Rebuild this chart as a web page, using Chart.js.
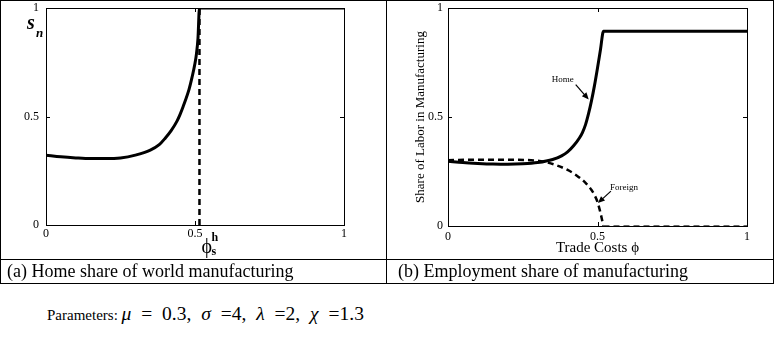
<!DOCTYPE html>
<html>
<head>
<meta charset="utf-8">
<script src="https://cdn.jsdelivr.net/npm/chart.js@4.4.0/dist/chart.umd.min.js"></script>
<style>
  body { margin: 0; background: #fff; }
  #page { position: relative; width: 774px; height: 337px; background: #fff; font-family: 'Liberation Serif', 'Times New Roman', serif; color: #000; }
  #page canvas { position: absolute; top: 0; }
  .frame { position: absolute; left: 0; top: 0; width: 774px; height: 284px; border: 1px solid #000; box-sizing: border-box; }
  .hline { position: absolute; left: 0; top: 259px; width: 774px; height: 1px; background: #000; }
  .vline { position: absolute; left: 386px; top: 0; width: 1px; height: 284px; background: #000; }
  .caption { position: absolute; top: 260px; height: 23px; line-height: 23px; font-size: 18px; white-space: nowrap; }
  .params { position: absolute; left: 47px; top: 302px; height: 24px; line-height: 24px; white-space: nowrap; font-size: 15px; }
  .params .math { font-size: 19.5px; word-spacing: 5px; }
  .params i { font-style: italic; }
</style>
</head>
<body>
<div id="page">
  <canvas id="share" width="386" height="258" style="left:0"></canvas>
  <canvas id="labor" width="386" height="258" style="left:387px"></canvas>
  <div class="frame"></div>
  <div class="hline"></div>
  <div class="vline"></div>
  <div class="caption" style="left:7px">(a) Home share of world manufacturing</div>
  <div class="caption" style="left:398px">(b) Employment share of manufacturing</div>
  <div class="params">Parameters: <span class="math"><i>μ</i> = 0.3, <i>σ</i> =4, <i>λ</i> =2, <i>χ</i> =1.3</span></div>
</div>
<script>
// tick positions shared by both panels
const tickValues = [0, 0.5, 1];

// (a) home share of world manufacturing
const phiA = [0, 0.05, 0.1, 0.15, 0.2, 0.25, 0.3, 0.35, 0.38, 0.4, 0.42, 0.44, 0.45, 0.46, 0.48, 0.49, 0.5, 0.505, 0.51, 0.515, 1];
const shareA = [0.322, 0.314, 0.309, 0.306, 0.306, 0.309, 0.322, 0.345, 0.37, 0.40, 0.435, 0.48, 0.51, 0.545, 0.625, 0.68, 0.745, 0.79, 0.86, 1.0, 1.0];
const phiSustain = 0.515;

// (b) share of labor in manufacturing
const phiB = [0, 0.05, 0.1, 0.15, 0.2, 0.25, 0.3, 0.35, 0.38, 0.4, 0.42, 0.44, 0.45, 0.46, 0.47, 0.48, 0.49, 0.5, 0.51, 0.52, 1];
const homeB = [0.297, 0.291, 0.287, 0.284, 0.283, 0.285, 0.291, 0.305, 0.322, 0.34, 0.368, 0.405, 0.43, 0.465, 0.515, 0.575, 0.645, 0.725, 0.81, 0.893, 0.893];
const phiForeign = [0, 0.1, 0.2, 0.3, 0.33, 0.36, 0.4, 0.43, 0.46, 0.48, 0.49, 0.5, 0.51, 0.515, 0.52, 1];
const foreignB = [0.302, 0.304, 0.304, 0.299, 0.292, 0.28, 0.257, 0.232, 0.198, 0.165, 0.142, 0.11, 0.06, 0.03, 0, 0];

const serif = "'Liberation Serif', 'Times New Roman', serif";
Chart.defaults.font.family = serif;
Chart.defaults.color = '#000';

const toPoints = (xs, ys) => xs.map((x, i) => ({ x: x, y: ys[i] }));

// box round the plot area with small inward ticks on every side
const boxFrame = {
  id: 'boxFrame',
  beforeDatasetsDraw(chart) {
    const { ctx, chartArea: a, scales: { x, y } } = chart;
    ctx.save();
    ctx.strokeStyle = '#000';
    ctx.lineWidth = 1;
    ctx.strokeRect(a.left + 0.5, a.top + 0.5, a.right - a.left, a.bottom - a.top);
    ctx.beginPath();
    tickValues.forEach(v => {
      const px = Math.round(x.getPixelForValue(v)) + 0.5;
      const py = Math.round(y.getPixelForValue(v)) + 0.5;
      ctx.moveTo(px, a.bottom); ctx.lineTo(px, a.bottom - 4);
      ctx.moveTo(px, a.top); ctx.lineTo(px, a.top + 4);
      ctx.moveTo(a.left, py); ctx.lineTo(a.left + 4, py);
      ctx.moveTo(a.right, py); ctx.lineTo(a.right - 4, py);
    });
    ctx.stroke();
    ctx.restore();
  }
};

// gap between axis and labels goes through tickLength so it doesn't pad the chart area
function axis(gap, fit) {
  return {
    type: 'linear',
    min: 0,
    max: 1,
    afterBuildTicks: s => { s.ticks = tickValues.map(v => ({ value: v })); },
    afterFit: fit,
    grid: { display: false, drawTicks: true, tickLength: gap },
    border: { display: false },
    ticks: { padding: 0, maxRotation: 0, font: { size: 12 }, callback: v => String(v) }
  };
}

// s_n on the axis and phi_s^h under the break point
const shareLabels = {
  id: 'shareLabels',
  afterDraw(chart) {
    const { ctx, chartArea: a, scales: { x } } = chart;
    ctx.save();
    ctx.fillStyle = '#000';
    ctx.textBaseline = 'alphabetic';
    ctx.textAlign = 'left';
    ctx.font = 'italic bold 20px ' + serif;
    ctx.fillText('s', a.left - 19, a.top + 21);
    ctx.font = 'italic bold 13px ' + serif;
    ctx.fillText('n', a.left - 10, a.top + 29);
    const px = x.getPixelForValue(phiSustain);
    ctx.font = '20px ' + serif;
    ctx.fillText('ϕ', px + 2, a.bottom + 28);
    ctx.font = 'bold 12px ' + serif;
    ctx.fillText('h', px + 12, a.bottom + 16);
    ctx.fillText('s', px + 12, a.bottom + 30);
    ctx.restore();
  }
};

function arrow(ctx, x0, y0, x1, y1) {
  const ang = Math.atan2(y1 - y0, x1 - x0);
  ctx.beginPath();
  ctx.moveTo(x0, y0);
  ctx.lineTo(x1 - 4 * Math.cos(ang), y1 - 4 * Math.sin(ang));
  ctx.stroke();
  ctx.beginPath();
  ctx.moveTo(x1, y1);
  ctx.lineTo(x1 - 7 * Math.cos(ang) + 3 * Math.sin(ang), y1 - 7 * Math.sin(ang) - 3 * Math.cos(ang));
  ctx.lineTo(x1 - 7 * Math.cos(ang) - 3 * Math.sin(ang), y1 - 7 * Math.sin(ang) + 3 * Math.cos(ang));
  ctx.closePath();
  ctx.fill();
}

// Home / Foreign callouts
const laborLabels = {
  id: 'laborLabels',
  afterDraw(chart) {
    const { ctx, scales: { x, y } } = chart;
    ctx.save();
    ctx.fillStyle = '#000';
    ctx.strokeStyle = '#000';
    ctx.lineWidth = 1.2;
    ctx.font = '9px ' + serif;
    ctx.textAlign = 'center';
    ctx.textBaseline = 'middle';

    const hx = x.getPixelForValue(0.474), hy = y.getPixelForValue(0.58);
    ctx.fillText('Home', hx - 27, hy - 20);
    arrow(ctx, hx - 14, hy - 15, hx - 1, hy);

    const fx = x.getPixelForValue(0.498), fy = y.getPixelForValue(0.105);
    ctx.fillText('Foreign', fx + 27, fy - 15);
    arrow(ctx, fx + 14, fy - 12, fx + 1, fy);
    ctx.restore();
  }
};

new Chart(document.querySelector('#share'), {
  type: 'line',
  data: {
    datasets: [
      {
        data: toPoints(phiA, shareA),
        borderColor: '#000',
        borderWidth: 3,
        pointRadius: 0,
        cubicInterpolationMode: 'monotone'
      },
      {
        data: [{ x: phiSustain, y: 0 }, { x: phiSustain, y: 1 }],
        borderColor: '#000',
        borderWidth: 2.5,
        borderDash: [6, 4],
        pointRadius: 0
      }
    ]
  },
  options: {
    responsive: false,
    animation: false,
    layout: { padding: { top: 8, right: 42, left: 0, bottom: 0 } },
    plugins: { legend: { display: false }, tooltip: { enabled: false } },
    scales: {
      x: axis(2, s => { s.height = 33; }),
      y: axis(7, s => { s.width = 46; })
    }
  },
  plugins: [boxFrame, shareLabels]
});

const laborX = axis(4, s => { s.height = 32; });
laborX.title = { display: true, text: 'Trade Costs ϕ', font: { size: 15 }, padding: { top: 0, bottom: 1 } };
const laborY = axis(5, s => { s.width = 61; });
laborY.title = { display: true, text: 'Share of Labor in Manufacturing', font: { size: 13 }, padding: { top: 26, bottom: 0 } };

new Chart(document.querySelector('#labor'), {
  type: 'line',
  data: {
    datasets: [
      {
        data: toPoints(phiForeign, foreignB),
        borderColor: '#000',
        borderWidth: 2.5,
        borderDash: [6, 4],
        pointRadius: 0,
        cubicInterpolationMode: 'monotone',
        segment: {
          borderWidth: c => (c.p0.parsed.y === 0 && c.p1.parsed.y === 0 ? 2 : undefined),
          borderColor: c => (c.p0.parsed.y === 0 && c.p1.parsed.y === 0 ? '#666' : undefined)
        }
      },
      {
        data: toPoints(phiB, homeB),
        borderColor: '#000',
        borderWidth: 3,
        pointRadius: 0,
        cubicInterpolationMode: 'monotone'
      }
    ]
  },
  options: {
    responsive: false,
    animation: false,
    layout: { padding: { top: 8, right: 26, left: 0, bottom: 0 } },
    plugins: { legend: { display: false }, tooltip: { enabled: false } },
    scales: { x: laborX, y: laborY }
  },
  plugins: [boxFrame, laborLabels]
});
</script>
</body>
</html>
